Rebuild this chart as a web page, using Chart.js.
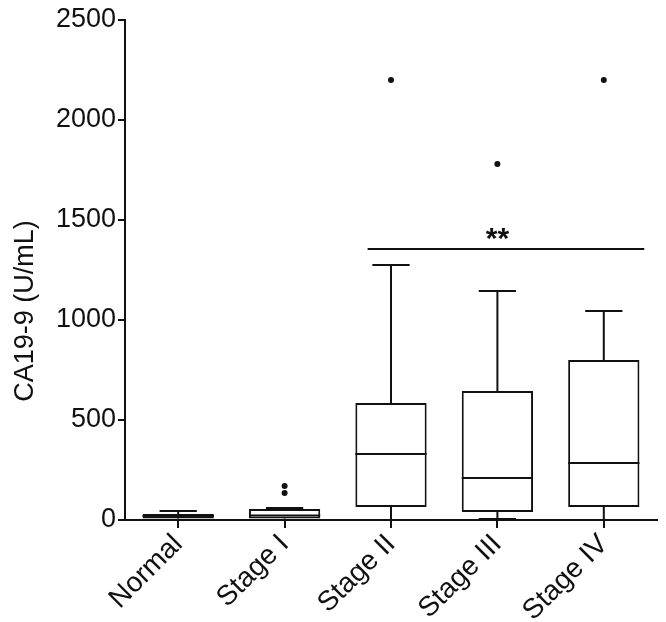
<!DOCTYPE html>
<html>
<head>
<meta charset="utf-8">
<script src="https://cdn.jsdelivr.net/npm/chart.js@4.4.1/dist/chart.umd.min.js"></script>
<style>
    html, body { margin: 0; padding: 0; background: #fff; }
    #wrap { width: 666px; height: 622px; }
</style>
</head>
<body>
<div id="wrap"><canvas id="boxChart"></canvas></div>
<script>
// values (U/mL)
const categories = ['Normal', 'Stage I', 'Stage II', 'Stage III', 'Stage IV'];
const whiskerLow = [0, 0, 0, 5, 0];
const q1 = [8, 8, 65, 40, 65];
const median = [20, 22, 330, 210, 285];
const q3 = [30, 55, 585, 645, 800];
const whiskerHigh = [45, 60, 1275, 1145, 1045];
const outliers = [
    { x: 'Stage I', y: 135 },
    { x: 'Stage I', y: 170 },
    { x: 'Stage II', y: 2200 },
    { x: 'Stage III', y: 1780 },
    { x: 'Stage IV', y: 2200 }
];
const yTicks = [0, 500, 1000, 1500, 2000, 2500];
const yTitle = 'CA19-9 (U/mL)';
const sigValue = 1355;   // height of the significance bar
const sigFrom = 'Stage II';
const sigTo = 'Stage IV';
const sigLabel = '**';

const FONT = "'Liberation Sans', Arial, sans-serif";
const INK = '#111';

// whiskers, caps, medians, significance bar and the y title
const boxExtras = {
    id: 'boxExtras',
    afterDatasetsDraw(chart) {
        const { ctx, scales: { x, y } } = chart;
        const bars = chart.getDatasetMeta(0).data;
        const band = (x.right - x.left) / categories.length;
        const capHalf = band * 0.175;

        ctx.save();
        ctx.strokeStyle = INK;
        ctx.lineWidth = 2;
        ctx.lineCap = 'butt';

        categories.forEach((c, i) => {
            const cx = x.getPixelForValue(i);
            const half = bars[i].width / 2;
            const yHi = y.getPixelForValue(whiskerHigh[i]);
            const yLo = y.getPixelForValue(whiskerLow[i]);
            const yQ3 = y.getPixelForValue(q3[i]);
            const yQ1 = y.getPixelForValue(q1[i]);
            const yMed = y.getPixelForValue(median[i]);

            ctx.beginPath();
            // upper whisker + cap
            ctx.moveTo(cx, yQ3); ctx.lineTo(cx, yHi);
            ctx.moveTo(cx - capHalf, yHi); ctx.lineTo(cx + capHalf, yHi);
            // lower whisker + cap
            ctx.moveTo(cx, yQ1); ctx.lineTo(cx, yLo);
            ctx.moveTo(cx - capHalf, yLo); ctx.lineTo(cx + capHalf, yLo);
            // median
            ctx.moveTo(cx - half, yMed); ctx.lineTo(cx + half, yMed);
            ctx.stroke();
        });

        // significance bar
        const i0 = categories.indexOf(sigFrom);
        const i1 = categories.indexOf(sigTo);
        const ys = y.getPixelForValue(sigValue);
        const xs0 = x.getPixelForValue(i0) - band * 0.22;
        const xs1 = x.getPixelForValue(i1) + band * 0.38;
        ctx.beginPath();
        ctx.moveTo(xs0, ys);
        ctx.lineTo(xs1, ys);
        ctx.stroke();

        ctx.fillStyle = INK;
        ctx.font = 'bold 30px ' + FONT;
        ctx.textAlign = 'center';
        ctx.textBaseline = 'alphabetic';
        ctx.fillText(sigLabel, x.getPixelForValue((i0 + i1) / 2), ys - 1);

        // y axis title, sits a little below the middle of the axis
        ctx.translate(26, y.getPixelForValue(1045));
        ctx.rotate(-Math.PI / 2);
        ctx.font = '27px ' + FONT;
        ctx.textBaseline = 'middle';
        ctx.fillText(yTitle, 0, 0);
        ctx.restore();
    }
};

new Chart(document.getElementById('boxChart'), {
    type: 'bar',
    data: {
        labels: categories,
        datasets: [
            {
                label: 'IQR',
                data: categories.map((c, i) => [q1[i], q3[i]]),
                backgroundColor: '#fff',
                borderColor: INK,
                borderWidth: 2,
                borderSkipped: false,
                barPercentage: 0.67,
                categoryPercentage: 1
            },
            {
                type: 'line',
                label: 'Outliers',
                data: outliers,
                showLine: false,
                pointRadius: 3,
                pointHoverRadius: 3,
                pointBackgroundColor: INK,
                pointBorderWidth: 0
            }
        ]
    },
    options: {
        responsive: true,
        maintainAspectRatio: false,
        animation: false,
        layout: { padding: { top: 20, right: 9, left: 0, bottom: 0 } },
        plugins: {
            legend: { display: false },
            tooltip: { enabled: false }
        },
        scales: {
            x: {
                type: 'category',
                offset: true,
                border: { color: INK, width: 2 },
                grid: {
                    offset: false,
                    drawOnChartArea: false,
                    drawTicks: true,
                    tickLength: 8,
                    color: INK,
                    lineWidth: 2
                },
                ticks: {
                    color: INK,
                    font: { family: FONT, size: 28 },
                    minRotation: 45,
                    maxRotation: 45,
                    padding: 0
                },
                afterFit(scale) { scale.height = 102; }
            },
            y: {
                min: 0,
                max: 2500,
                border: { color: INK, width: 2 },
                grid: {
                    drawOnChartArea: false,
                    drawTicks: true,
                    tickLength: 7,
                    color: INK,
                    lineWidth: 2
                },
                afterBuildTicks(scale) {
                    scale.ticks = yTicks.map(v => ({ value: v }));
                },
                ticks: {
                    color: INK,
                    font: { family: FONT, size: 27 },
                    padding: 2,
                    callback: v => String(v)
                },
                afterFit(scale) { scale.width = 125; }
            }
        }
    },
    plugins: [boxExtras]
});
</script>
</body>
</html>
